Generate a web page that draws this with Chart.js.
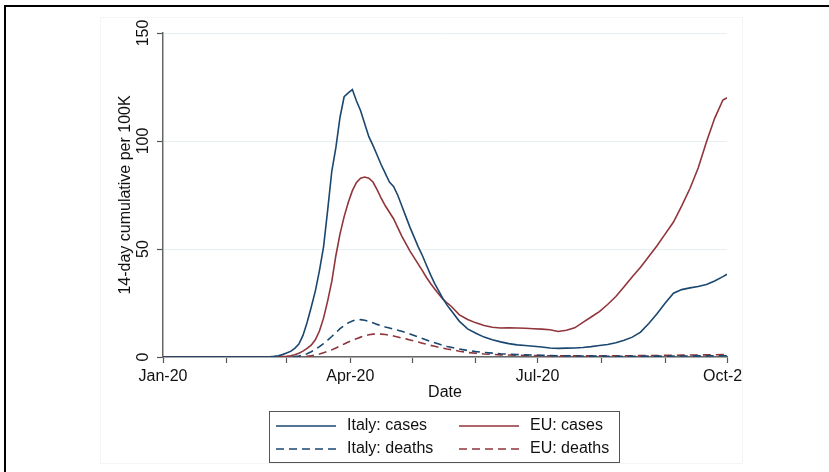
<!DOCTYPE html>
<html>
<head>
<meta charset="utf-8">
<script src="https://cdn.jsdelivr.net/npm/chart.js@4/dist/chart.umd.min.js"></script>
<style>
  html, body { margin: 0; padding: 0; background: #fff; width: 829px; height: 472px; overflow: hidden; }
  #frame { position: absolute; left: 4px; top: 5px; width: 840px; height: 480px; border-left: 2px solid #000; border-top: 2px solid #000; }
  #region { position: absolute; left: 100px; top: 17px; width: 641px; height: 445px; border: 1px solid #f5f5f5; }
  #c { position: absolute; left: 0; top: 0; }
</style>
</head>
<body>
<div id="frame"></div>
<div id="region"></div>
<canvas id="c" width="742" height="472"></canvas>
<script>
// Day of year 2020 (0 = 1 January)
const days = [0, 10, 20, 30, 40, 46,
  50, 52, 54, 56, 58, 60, 62, 64, 66, 68, 70, 72, 74, 76, 78, 80, 82, 84, 86, 88,
  90, 92, 94, 96, 98, 100, 102, 104, 106, 108, 110, 112, 114, 116, 118, 120, 122, 124, 126, 128,
  130, 132, 134, 136, 138, 140,
  144, 148, 152, 156, 160, 164, 168, 172, 176, 180, 184, 188, 192, 196, 200, 204, 208, 212, 216, 220,
  224, 228, 232, 236, 240, 244, 248, 252, 256, 260, 264, 268, 272, 274];

// 14-day cumulative counts per 100K inhabitants
const italyCases = [0, 0, 0, 0, 0, 0,
  0, 0.1, 0.3, 0.6, 1.1, 1.8, 2.6, 4, 6, 10, 16, 23, 30.5, 40, 51, 68, 86, 97, 111, 120.5,
  122.3, 123.8, 118.5, 114, 108, 102, 98, 93.5, 89, 85, 81, 79, 75, 70, 65, 60, 55.5, 51, 47, 42.5,
  38, 34, 30.5, 27, 24, 21.5,
  16.5, 13, 11, 9.2, 8, 7, 6.2, 5.6, 5.3, 5, 4.6, 4.2, 4, 4.1, 4.2, 4.4, 4.8, 5.3, 5.8, 6.6,
  7.8, 9.2, 11.5, 15.5, 20, 25, 29.5, 31.2, 32, 32.6, 33.6, 35.2, 37.2, 38.3];

const euCases = [0, 0, 0, 0, 0, 0,
  0, 0, 0.05, 0.1, 0.2, 0.3, 0.6, 1, 1.7, 2.7, 4, 5.5, 8, 12, 18, 26, 35, 47, 57, 65,
  71.5, 77, 80.8, 82.8, 83.3, 82.8, 81, 77.5, 73.5, 70, 67, 64, 60, 56, 52.5, 49, 46, 43, 40, 36.8,
  34, 31.5, 29, 26.8, 25, 23.5,
  19.5, 17.4, 15.8, 14.6, 13.8, 13.4, 13.5, 13.4, 13.3, 13.1, 12.9, 12.6, 11.8, 12.4, 13.5, 16, 18.5, 21, 24.3, 28,
  32.5, 37.2, 41.5, 46.5, 51.5, 57, 62.5, 70, 78, 87.5, 99.5, 110.5, 119, 120];

const italyDeaths = [0, 0, 0, 0, 0, 0,
  0, 0, 0, 0, 0, 0, 0.05, 0.2, 0.5, 0.9, 1.5, 2.4, 3.5, 4.8, 6.2, 7.8, 9.5, 11.3, 13.1, 14.6,
  15.8, 16.7, 17.2, 17.3, 17, 16.5, 15.8, 15.1, 14.5, 13.9, 13.4, 12.9, 12.4, 11.9, 11.3, 10.7, 10, 9.3, 8.6, 7.9,
  7.2, 6.6, 6, 5.4, 4.9, 4.5,
  3.7, 3, 2.5, 2.1, 1.8, 1.5, 1.3, 1.1, 1, 0.9, 0.8, 0.7, 0.6, 0.55, 0.5, 0.45, 0.4, 0.4, 0.35, 0.35,
  0.35, 0.35, 0.35, 0.4, 0.4, 0.4, 0.45, 0.45, 0.5, 0.5, 0.5, 0.55, 0.6, 0.6];

const euDeaths = [0, 0, 0, 0, 0, 0,
  0, 0, 0, 0, 0, 0, 0, 0, 0.05, 0.15, 0.3, 0.6, 0.9, 1.4, 2, 2.6, 3.3, 4.2, 5.1, 6,
  6.9, 7.7, 8.5, 9.2, 9.8, 10.3, 10.6, 10.7, 10.6, 10.4, 10.1, 9.7, 9.3, 8.8, 8.4, 7.9, 7.4, 6.9, 6.4, 5.9,
  5.4, 5, 4.5, 4.1, 3.7, 3.4,
  2.7, 2.1, 1.7, 1.4, 1.2, 1, 0.9, 0.8, 0.7, 0.65, 0.6, 0.55, 0.5, 0.5, 0.5, 0.5, 0.5, 0.5, 0.55, 0.55,
  0.6, 0.6, 0.65, 0.7, 0.7, 0.75, 0.8, 0.85, 0.9, 0.95, 1, 1.05, 1.1, 1.1];

// Month starts (day of year) and the quarterly labels shown on the date axis
const monthStartDays = [0, 31, 60, 91, 121, 152, 182, 213, 244, 274];
const quarterLabels = { 0: 'Jan-20', 91: 'Apr-20', 182: 'Jul-20', 274: 'Oct-20' };
const yTicks = [0, 50, 100, 150];

const NAVY = '#1a476f';
const MAROON = '#90353b';
const FONT = '"Liberation Sans", Arial, Helvetica, sans-serif';

Chart.defaults.font.family = FONT;
Chart.defaults.font.size = 16;
Chart.defaults.color = '#111';

const pairs = (vals) => days.map((d, i) => ({ x: d, y: vals[i] }));

const lineStyle = (label, vals, color, dashed) => ({
  label,
  data: pairs(vals),
  borderColor: color,
  backgroundColor: color,
  borderWidth: 1.6,
  borderDash: dashed ? [8, 5] : [],
  pointRadius: 0,
  tension: 0,
  fill: false
});

// Two-column boxed legend under the plot
const boxLegend = {
  id: 'boxLegend',
  afterDraw(chart) {
    const ctx = chart.ctx;
    ctx.save();
    ctx.strokeStyle = '#555';
    ctx.lineWidth = 1;
    ctx.setLineDash([]);
    ctx.strokeRect(269.5, 411.5, 350, 51);
    const cols = [276, 459];
    const rows = [426, 449];
    chart.data.datasets.forEach((ds, i) => {
      const x = cols[i % 2];
      const y = rows[Math.floor(i / 2)];
      ctx.beginPath();
      ctx.setLineDash(ds.borderDash || []);
      ctx.strokeStyle = ds.borderColor;
      ctx.lineWidth = ds.borderWidth;
      ctx.moveTo(x, y);
      ctx.lineTo(x + 60, y);
      ctx.stroke();
      ctx.setLineDash([]);
      ctx.fillStyle = '#111';
      ctx.font = '16px ' + FONT;
      ctx.textAlign = 'left';
      ctx.textBaseline = 'middle';
      ctx.fillText(ds.label, x + 71, y);
    });
    ctx.restore();
  }
};

new Chart(document.getElementById('c'), {
  type: 'line',
  data: {
    datasets: [
      lineStyle('Italy: cases', italyCases, NAVY, false),
      lineStyle('EU: cases', euCases, MAROON, false),
      lineStyle('Italy: deaths', italyDeaths, NAVY, true),
      lineStyle('EU: deaths', euDeaths, MAROON, true)
    ]
  },
  options: {
    responsive: false,
    animation: false,
    events: [],
    layout: { padding: { left: 116, right: 15, top: 33, bottom: 70 } },
    plugins: { legend: { display: false }, tooltip: { enabled: false } },
    scales: {
      x: {
        type: 'linear',
        min: 0,
        max: 274,
        afterBuildTicks: (scale) => { scale.ticks = monthStartDays.map(v => ({ value: v })); },
        afterFit: (scale) => { scale.height = 45; scale.paddingLeft = 0; scale.paddingRight = 0; },
        ticks: {
          autoSkip: false,
          maxRotation: 0,
          minRotation: 0,
          padding: 4,
          color: '#111',
          callback: (v) => quarterLabels[v] || ''
        },
        grid: { drawOnChartArea: false, drawTicks: true, tickLength: 6, tickColor: '#555', tickWidth: 1.2 },
        border: { display: true, color: '#666', width: 1.5 },
        title: { display: true, text: 'Date', color: '#111', padding: { top: 0, bottom: 0 }, font: { size: 16 } }
      },
      y: {
        min: 0,
        max: 150,
        afterBuildTicks: (scale) => { scale.ticks = yTicks.map(v => ({ value: v })); },
        afterFit: (scale) => { scale.width = 47; },
        ticks: {
          minRotation: 90,
          maxRotation: 90,
          crossAlign: 'center',
          padding: 0,
          color: '#111'
        },
        grid: { color: '#e6eff1', lineWidth: 1, tickLength: 6, tickColor: '#555', tickWidth: 1.2 },
        border: { display: true, color: '#666', width: 1.5 },
        title: { display: true, text: '14-day cumulative per 100K', color: '#111', padding: { top: 0, bottom: 0 }, font: { size: 16 } }
      }
    }
  },
  plugins: [boxLegend]
});
</script>
</body>
</html>
